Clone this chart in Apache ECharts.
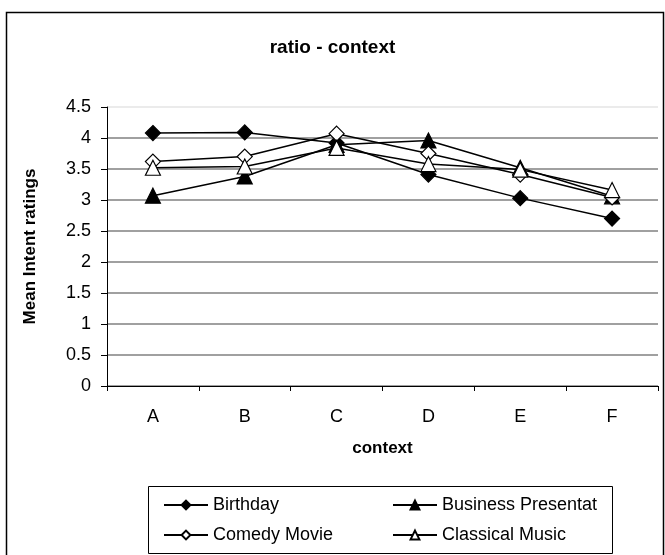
<!DOCTYPE html>
<html>
<head>
<meta charset="utf-8">
<script src="https://cdn.jsdelivr.net/npm/echarts@6/dist/echarts.min.js"></script>
<style>
  html, body { margin: 0; padding: 0; background: #fff; }
  #chart { width: 665px; height: 555px; }
</style>
</head>
<body>
<div id="chart"></div>
<script>
// categories and series values
const contexts = ['A', 'B', 'C', 'D', 'E', 'F'];
const birthday = [4.08, 4.09, 3.92, 3.41, 3.03, 2.70];
const business = [3.07, 3.38, 3.89, 3.96, 3.52, 3.06];
const comedy = [3.62, 3.70, 4.07, 3.75, 3.41, 3.04];
const classical = [3.52, 3.54, 3.84, 3.58, 3.49, 3.16];
const yTicks = [0, 0.5, 1, 1.5, 2, 2.5, 3, 3.5, 4, 4.5];

const font = 'Liberation Sans, Arial, sans-serif';

function makeSeries(name, data, symbol, filled, size) {
    return {
        name: name,
        type: 'line',
        data: data,
        symbol: symbol,
        symbolSize: size,
        lineStyle: { color: '#000', width: 1.5 },
        itemStyle: { color: filled ? '#000' : '#fff', borderColor: '#000', borderWidth: 1.2 },
        emphasis: { disabled: true },
        z: 3
    };
}

// gridlines are dark grey, the top one (4.5) is faint
const gridColors = yTicks.map((t, i) => i === yTicks.length - 1 ? '#e4e4e4' : '#808080');

const legendCommon = {
    orient: 'vertical',
    top: 491,
    itemWidth: 44,
    itemHeight: 11,
    itemGap: 12,
    textStyle: { fontFamily: font, fontSize: 18, color: '#000', padding: [0, 0, 0, 0] }
};

const chart = echarts.init(document.getElementById('chart'));
chart.setOption({
    animation: false,
    backgroundColor: '#fff',
    title: {
        text: 'ratio - context',
        left: 'center',
        top: 33,
        textStyle: { fontFamily: font, fontSize: 19, fontWeight: 'bold', color: '#000' }
    },
    grid: { left: 107, right: 7, top: 107, bottom: 169 },
    xAxis: {
        type: 'category',
        data: contexts,
        boundaryGap: true,
        name: 'context',
        nameLocation: 'middle',
        nameGap: 54,
        nameTextStyle: { fontFamily: font, fontSize: 17, fontWeight: 'bold', color: '#000' },
        axisLine: { lineStyle: { color: '#000', width: 1 } },
        axisTick: { show: true, length: 5, lineStyle: { color: '#000' } },
        axisLabel: { fontFamily: font, fontSize: 18, color: '#000', margin: 22 },
        splitLine: { show: false }
    },
    yAxis: {
        type: 'value',
        min: yTicks[0],
        max: yTicks[yTicks.length - 1],
        interval: 0.5,
        name: 'Mean Intent ratings',
        nameLocation: 'middle',
        nameGap: 68,
        nameTextStyle: { fontFamily: font, fontSize: 17, fontWeight: 'bold', color: '#000' },
        axisLine: { show: true, lineStyle: { color: '#000', width: 1 } },
        axisTick: { show: true, length: 6, lineStyle: { color: '#000' } },
        axisLabel: { fontFamily: font, fontSize: 18, color: '#000', margin: 16 },
        splitLine: { show: true, lineStyle: { color: gridColors, width: 1.5 } }
    },
    legend: [
        Object.assign({ data: ['Birthday', 'Comedy Movie'], left: 158 }, legendCommon),
        Object.assign({ data: ['Business Presentat', 'Classical Music'], left: 387 }, legendCommon)
    ],
    graphic: [{
        type: 'rect',
        shape: { x: 6.5, y: 12.5, width: 657, height: 560 },
        style: { fill: 'none', stroke: '#000', lineWidth: 1.5 },
        silent: true
    }, {
        type: 'rect',
        shape: { x: 148.5, y: 486.5, width: 464, height: 67 },
        style: { fill: 'none', stroke: '#000', lineWidth: 1 },
        silent: true
    }],
    series: [
        makeSeries('Birthday', birthday, 'diamond', true, 15),
        makeSeries('Business Presentat', business, 'triangle', true, 15),
        makeSeries('Comedy Movie', comedy, 'diamond', false, 15),
        makeSeries('Classical Music', classical, 'triangle', false, 15)
    ]
});
</script>
</body>
</html>
